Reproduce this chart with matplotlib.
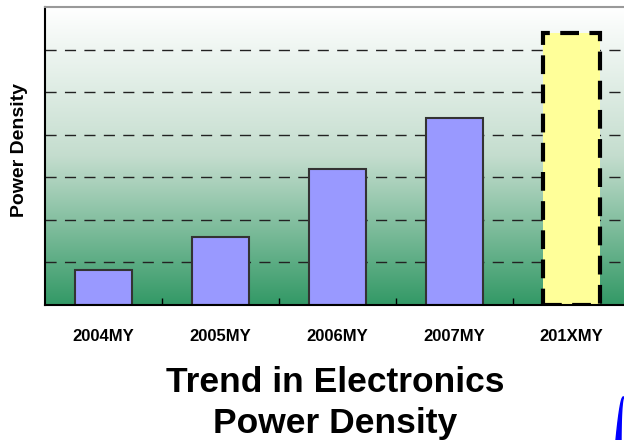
import numpy as np
import matplotlib
matplotlib.use("Agg")
import matplotlib.pyplot as plt
from matplotlib.colors import LinearSegmentedColormap
from matplotlib.patches import Polygon

plt.rcParams["font.family"] = ["Liberation Sans", "DejaVu Sans"]

years = ["2004MY", "2005MY", "2006MY", "2007MY", "201XMY"]
density = [0.82, 1.6, 3.2, 4.4, 6.4]
grid_levels = [1, 2, 3, 4, 5, 6]

fig = plt.figure(figsize=(6.24, 4.4), dpi=100)
ax = fig.add_axes([45 / 624, 1 - 305 / 440, 585 / 624, 298 / 440])
ax.set_xlim(-0.5, 4.5)
ax.set_ylim(0, 7)

# white-to-green backdrop
bg = LinearSegmentedColormap.from_list("bg", ["#ffffff", "#c4ddce", "#339966"])
grad = np.linspace(0, 1, 256).reshape(-1, 1)
ax.imshow(grad, cmap=bg, aspect="auto", extent=(-0.5, 4.5, 0, 7), zorder=0)

for g in grid_levels:
    ax.axhline(g, color="#222222", lw=1, ls=(0, (8, 6)), zorder=1)

x = np.arange(len(years))
ax.bar(x[:-1], density[:-1], width=0.49, color="#9999ff",
       edgecolor="#333333", linewidth=1.5, zorder=2)
ax.bar(x[-1], density[-1], width=0.49, color="#ffff99",
       edgecolor="black", linewidth=3, linestyle=(0, (4.5, 2.5)), zorder=2)

ax.set_xticks(x)
ax.set_xticklabels(years, fontsize=12, fontweight="bold")
ax.tick_params(axis="x", length=0, pad=17)
ax.set_xticks(x[:-1] + 0.5, minor=True)
ax.tick_params(axis="x", which="minor", direction="in", length=5, width=1)
ax.set_yticks([])
ax.set_ylabel("Power Density", fontsize=14, fontweight="bold")
ax.yaxis.set_label_coords(-0.029, 0.52)

ax.spines["right"].set_visible(False)
ax.spines["top"].set_color("#999999")
ax.spines["top"].set_linewidth(1.5)
ax.spines["left"].set_linewidth(1.5)
ax.spines["bottom"].set_linewidth(1.5)

fig.text(335 / 624, 1 - 382 / 440, "Trend in Electronics", fontsize=25.5,
         fontweight="bold", ha="center", va="center")
fig.text(335 / 624, 1 - 423 / 440, "Power Density", fontsize=25.5,
         fontweight="bold", ha="center", va="center")

# blue arc in the lower right corner
arc_y = np.linspace(397, 440, 30)
arc_x = 623 - 7 * ((arc_y - 397) / 43) ** 0.6
outer = np.column_stack([arc_x / 624, 1 - arc_y / 440])
inner = np.column_stack([(arc_x + 1 + 4 * (arc_y - 397) / 43)[::-1] / 624,
                         1 - arc_y[::-1] / 440])
fig.patches.append(Polygon(np.vstack([outer, inner]), closed=True,
                           transform=fig.transFigure, color="#0000ff"))

fig.savefig("out.png", dpi=100)
